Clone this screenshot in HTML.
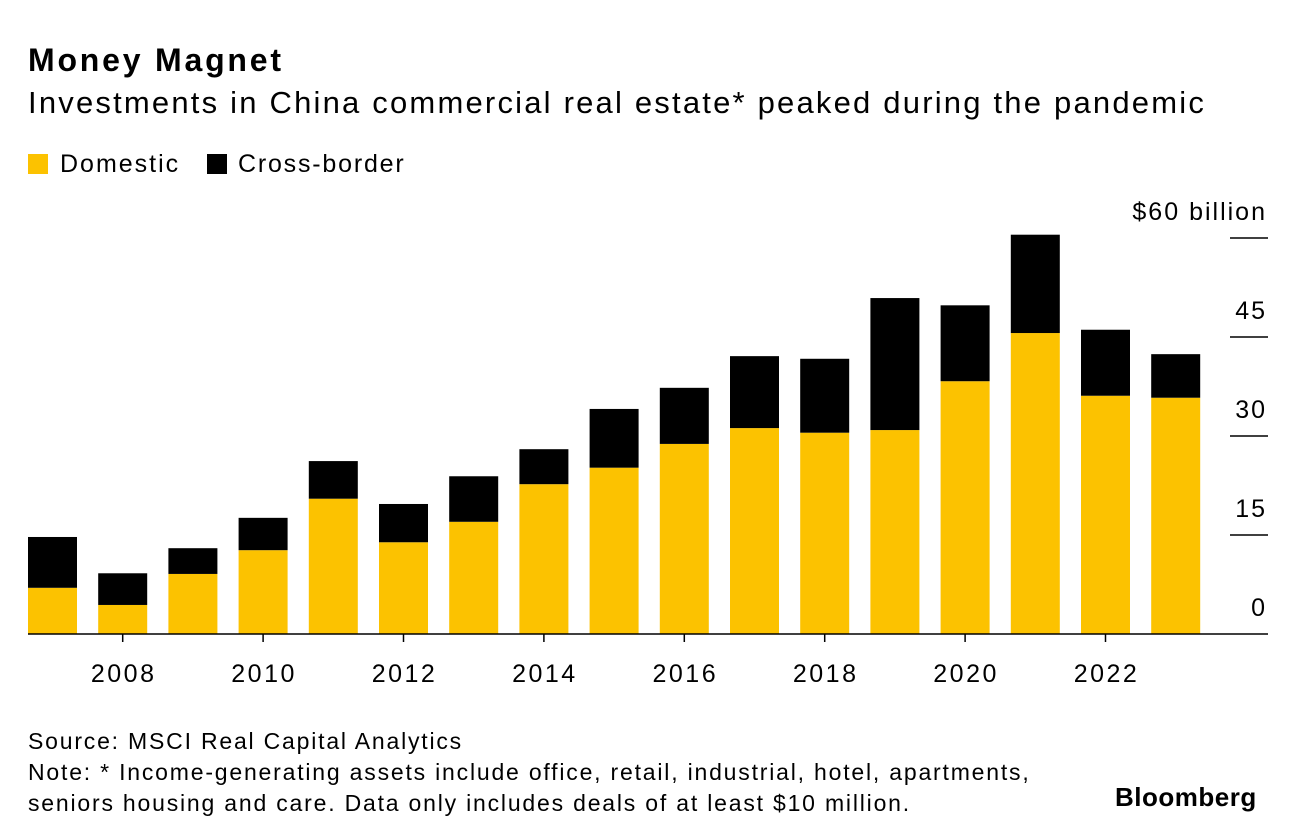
<!DOCTYPE html>
<html><head><meta charset="utf-8"><style>
body{margin:0;width:1296px;height:840px;background:#fff;font-family:"Liberation Sans",sans-serif;color:#000;position:relative;overflow:hidden}
.t{position:absolute;white-space:nowrap}
</style></head><body>
<div class="t" style="left:28px;top:42px;font-size:32px;font-weight:bold;letter-spacing:2.8px">Money Magnet</div>
<div class="t" style="left:28px;top:85px;font-size:31px;letter-spacing:2.2px">Investments in China commercial real estate* peaked during the pandemic</div>
<div class="t" style="left:28px;top:150px;font-size:25px;letter-spacing:2px"><span style="display:inline-block;width:20px;height:20px;background:#fcc200;vertical-align:-2px;margin-right:12px"></span>Domestic</div>
<div class="t" style="left:207px;top:150px;font-size:25px;letter-spacing:1.8px"><span style="display:inline-block;width:20px;height:20px;background:#000;vertical-align:-2px;margin-right:11px"></span>Cross-border</div>
<svg id="chart" width="1296" height="840" style="position:absolute;left:0;top:0"></svg>
<div class="t" style="left:28px;top:726px;font-size:23px;line-height:31px;letter-spacing:1.8px">Source: MSCI Real Capital Analytics<br>Note: * Income-generating assets include office, retail, industrial, hotel, apartments,<br>seniors housing and care. Data only includes deals of at least $10 million.</div>
<div class="t" style="left:1115px;top:782px;font-size:26px;font-weight:bold;letter-spacing:0.5px">Bloomberg</div>
<script>
const years=[2007,2008,2009,2010,2011,2012,2013,2014,2015,2016,2017,2018,2019,2020,2021,2022,2023];
const domestic=[7.0,4.4,9.1,12.7,20.5,13.9,17.0,22.7,25.2,28.8,31.2,30.5,30.9,38.3,45.6,36.1,35.8];
const crossBorder=[7.7,4.8,3.9,4.9,5.7,5.8,6.9,5.3,8.9,8.5,10.9,11.2,20.0,11.5,14.9,10.0,6.6];
const yTicks=[0,15,30,45,60];
const xLabels=[2008,2010,2012,2014,2016,2018,2020,2022];
const svg=document.getElementById('chart');const NS='http://www.w3.org/2000/svg';
const y0=634,pxPer=6.6,x0=52.5,step=70.2,bw=49;
const y=v=>y0-v*pxPer;const x=i=>x0+i*step;
function mk(tag,at){const e=document.createElementNS(NS,tag);for(const k in at)e.setAttribute(k,at[k]);svg.appendChild(e);return e;}
yTicks.forEach(v=>{
 if(v>0){const l=mk('line',{x1:1230,x2:1268,y1:y(v),y2:y(v),stroke:'#000','stroke-width':1.5});
 
 }
 const t=mk('text',{x:1267,y:y(v)-18,'text-anchor':'end','font-size':25,'letter-spacing':2,'font-family':'Liberation Sans, sans-serif'});
 t.textContent=v===60?'$60 billion':String(v);
 
 
});
years.forEach((yr,i)=>{
 const d=mk('rect',{x:x(i)-bw/2,y:y(domestic[i]),width:bw,height:domestic[i]*pxPer,fill:'#fcc200'});
 
 
 const c=mk('rect',{x:x(i)-bw/2,y:y(domestic[i]+crossBorder[i]),width:bw,height:crossBorder[i]*pxPer,fill:'#000'});
 
 
});
const ax=mk('line',{x1:28,x2:1268,y1:y0,y2:y0,stroke:'#000','stroke-width':1.5});


xLabels.forEach(yr=>{const i=years.indexOf(yr);
 const tk=mk('line',{x1:x(i),x2:x(i),y1:y0,y2:y0+8,stroke:'#000','stroke-width':1.5});
 
 
 const t=mk('text',{x:x(i)+1,y:682,'text-anchor':'middle','font-size':25,'letter-spacing':2.5,'font-family':'Liberation Sans, sans-serif'});
 t.textContent=yr;
 
 
});
</script>
</body></html>
